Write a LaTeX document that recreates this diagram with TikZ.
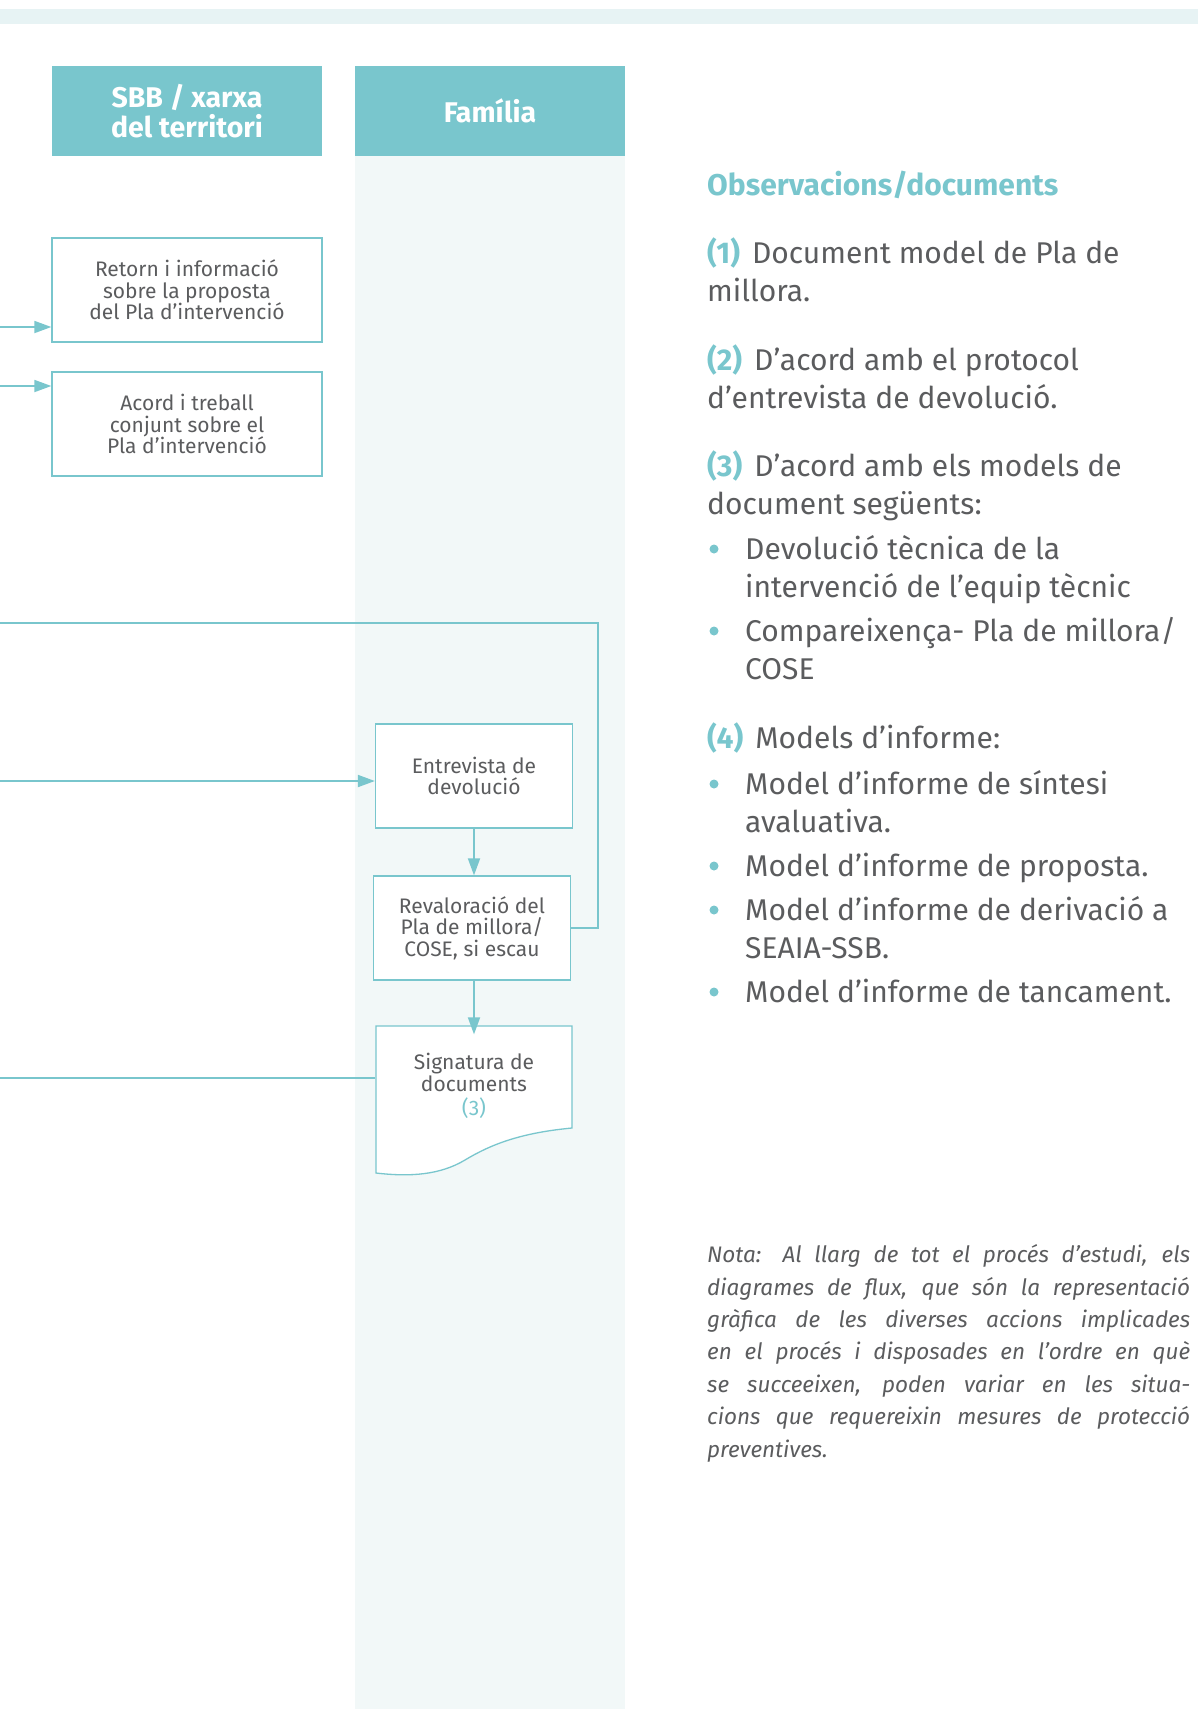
\documentclass[tikz,border=0pt]{standalone}
\usepackage{fontspec}
\setmainfont{Fira Sans}
\usetikzlibrary{arrows.meta}
\definecolor{seaia}{HTML}{79C6CD}
\definecolor{lanecol}{HTML}{F2F8F8}
\definecolor{bandcol}{HTML}{E7F3F4}
\definecolor{txtcol}{HTML}{5B5C5E}
\newcommand{\refnum}[1]{\textcolor{seaia}{\bfseries(#1)}\hspace{12pt}}
\begin{document}
\begin{tikzpicture}[x=1pt,y=-1pt,
   header/.style={fill=seaia,text=white,align=center,minimum width=270pt,minimum height=90pt,
     inner sep=0pt,font=\fontsize{28.5}{29.5}\selectfont\bfseries},
   box/.style={draw=seaia,line width=1.3pt,fill=white,text=txtcol,align=center,
     inner sep=0pt,font=\fontsize{21}{21.5}\selectfont},
   flow/.style={draw=seaia,line width=1.8pt},
   arr/.style={flow,-{Triangle[length=17pt,width=12pt]}},
   note/.style={anchor=base west,align=left,text=txtcol,inner sep=0pt,
     font=\fontsize{30}{38}\selectfont}]
   \useasboundingbox (0,0) rectangle (1198,1709);
   % Band and lane
   \fill[bandcol] (0,9) rectangle (1198,24);
   \fill[lanecol] (355,156) rectangle (625,1709);
   % Headers
   \node[header] (hsbb) at (187,111) {SBB / xarxa\\del territori};
   \node[header] (hfam) at (490,111) {Família};
   % SBB boxes
   \node[box,minimum width=270pt,minimum height=104pt] (retorn) at (187,290)
     {Retorn i informació\\sobre la proposta\\del Pla d’intervenció};
   \node[box,minimum width=270pt,minimum height=104pt] (acord) at (187,424)
     {Acord i treball\\conjunt sobre el\\Pla d’intervenció};
   % Familia boxes
   \node[box,minimum width=197pt,minimum height=104pt] (entrev) at (474,776)
     {Entrevista de\\devolució};
   \node[box,minimum width=197pt,minimum height=104pt] (reval) at (472,928)
     {Revaloració del\\Pla de millora/\\COSE, si escau};
   % Document shape
   \draw[draw=seaia,line width=1.3pt,fill=white] (376,1026) -- (572,1026) -- (572,1128)
     .. controls (519,1133) and (490,1145) .. (465,1160)
     .. controls (440,1175) and (410,1177) .. (376,1173) -- cycle;
   \node[box,draw=none,fill=none,minimum width=197pt,minimum height=102pt] (sig) at (474,1086)
     {Signatura de\\documents\\[3pt]\textcolor{seaia}{(3)}};
   % Connectors
   \coordinate (inRetorn) at (0,327);
   \coordinate (inAcord) at (0,386);
   \coordinate (loopEnd) at (0,623);
   \coordinate (inEntrev) at (0,781);
   \coordinate (inSig) at (0,1078);
   \draw[arr] (inRetorn) -- (inRetorn -| retorn.west);
   \draw[arr] (inAcord) -- (inAcord -| acord.west);
   \draw[arr] (inEntrev) -- (inEntrev -| entrev.west);
   \draw[flow] (inSig) -- (inSig -| sig.west);
   \draw[arr] (entrev.south) -- (entrev.south |- reval.north);
   \draw[arr] (entrev.south |- reval.south) -- (entrev.south |- sig.north);
   \draw[flow] (reval.east) -- ++(27,0) |- (loopEnd);
   % Observations (base = last line)
   \node[note,text=seaia,font=\fontsize{30}{30}\selectfont\bfseries] (obstitle) at (707,195)
     {Observacions/documents};
   \node[note] (obs1) at (707,301)
     {\refnum{1}Document model de Pla de\\millora.};
   \node[note] (obs2) at (707,408)
     {\refnum{2}D’acord amb el protocol\\d’entrevista de devolució.};
   \node[note] (obs3) at (707,514)
     {\refnum{3}D’acord amb els models de\\document següents:};
   \fill[seaia] (714,549) circle (4.5pt);
   \node[note] (obs3a) at (745,597) {Devolució tècnica de la\\intervenció de l’equip tècnic};
   \fill[seaia] (714,631) circle (4.5pt);
   \node[note] (obs3b) at (745,679) {Compareixença- Pla de millora/\\COSE};
   \node[note] (obs4) at (707,748)
     {\refnum{4}Models d’informe:};
   \fill[seaia] (714,784) circle (4.5pt);
   \node[note] (obs4a) at (745,832) {Model d’informe de síntesi\\avaluativa.};
   \fill[seaia] (714,866) circle (4.5pt);
   \node[note] (obs4b) at (745,876) {Model d’informe de proposta.};
   \fill[seaia] (714,910) circle (4.5pt);
   \node[note] (obs4c) at (745,958) {Model d’informe de derivació a\\SEAIA-SSB.};
   \fill[seaia] (714,992) circle (4.5pt);
   \node[note] (obs4d) at (745,1002) {Model d’informe de tancament.};
   % Nota
   \node[note,font=\fontsize{22.5}{32.4}\selectfont\itshape] (nota) at (707,1457)
     {\makebox[483pt][s]{Nota: Al llarg de tot el procés d’estudi, els}\\
      \makebox[483pt][s]{diagrames de flux, que són la representació}\\
      \makebox[483pt][s]{gràfica de les diverses accions implicades}\\
      \makebox[483pt][s]{en el procés i disposades en l’ordre en què}\\
      \makebox[483pt][s]{se succeeixen, poden variar en les situa-}\\
      \makebox[483pt][s]{cions que requereixin mesures de protecció}\\
      preventives.};
\end{tikzpicture}
\end{document}
